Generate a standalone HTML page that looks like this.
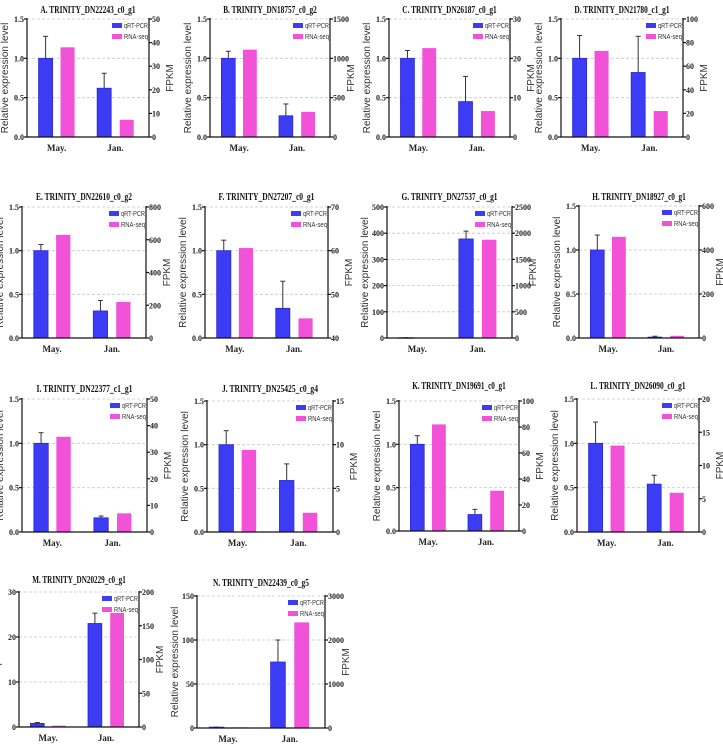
<!DOCTYPE html>
<html><head><meta charset="utf-8"><style>
html,body{margin:0;padding:0;background:#fff;}
svg{display:block;}
text{font-family:"Liberation Serif",serif;}
.ax{stroke:#111;stroke-width:1.2;fill:none;}
.grid{stroke:#c8c8c8;stroke-width:0.8;stroke-dasharray:3,2;}
.tick{font-size:8px;font-weight:bold;fill:#222;}
.ytitle{font-family:"Liberation Sans",sans-serif;font-size:10px;fill:#333;}
.leg{font-family:"Liberation Sans",sans-serif;font-size:7px;fill:#333;}
.ttl{font-size:10px;font-weight:bold;fill:#111;}
.xl{font-size:9px;font-weight:bold;fill:#222;}
</style></head><body>
<svg id="fig" width="723" height="744" viewBox="0 0 723 744" xmlns="http://www.w3.org/2000/svg"></svg>
<script>
const titles=["A. TRINITY_DN22243_c0_g1","B. TRINITY_DN18757_c0_g2","C. TRINITY_DN26187_c0_g1","D. TRINITY_DN21780_c1_g1","E. TRINITY_DN22610_c0_g2","F. TRINITY_DN27207_c0_g1","G. TRINITY_DN27537_c0_g1","H. TRINITY_DN18927_c0_g1","I. TRINITY_DN22377_c1_g1","J. TRINITY_DN25425_c0_g4","K. TRINITY_DN19691_c0_g1","L. TRINITY_DN26090_c0_g1","M. TRINITY_DN20229_c0_g1","N. TRINITY_DN22439_c0_g5"];
const categories=["May.","Jan."];
const qpcrMay=[1.0,1.0,1.0,1.0,1.0,1.0,1,1.0,1.0,1.0,1.0,1.0,0.8,1];
const qpcrJan=[0.62,0.27,0.45,0.82,0.31,0.34,378,0.01,0.16,0.59,0.19,0.54,23,75];
const qpcrErrMay=[1.28,1.09,1.1,1.29,1.07,1.12,1,1.17,1.12,1.16,1.1,1.24,1.0,1];
const qpcrErrJan=[0.81,0.42,0.77,1.28,0.43,0.65,408,0.02,0.18,0.78,0.25,0.64,25.3,100];
const rnaMay=[38,1110,22.6,73,630,60.6,5,460,35.8,9.4,82,13,2,15];
const rnaJan=[7.3,320,6.6,22,220,44.5,1875,10,7,2.2,31,5.9,169,2400];
const leftMax=[1.5,1.5,1.5,1.5,1.5,1.5,500,1.5,1.5,1.5,1.5,1.5,30,150];
const leftStep=[0.5,0.5,0.5,0.5,0.5,0.5,100,0.5,0.5,0.5,0.5,0.5,10,50];
const rightMin=[0,0,0,0,0,40,0,0,0,0,0,0,0,0];
const rightMax=[50,1500,30,100,800,70,2500,600,50,15,100,20,200,3000];
const rightStep=[10,500,10,20,200,10,500,200,10,5,20,5,50,1000];
// layout boxes [left,right,top,bottom,titleY]
const boxes=[[27,149,19,137,9],[210,330,19,137,9],[389,510,19,137,9],[561,683,19,137,9],
[22,146,207,338,196],[205,328,207,338,196],[387,512,207,338,196],[579,699,206,338,196],
[22,147,399,532,388],[207,333,401,532,388],[399,519,401,531,385],[577,699,399,532,385],
[19,139,592,727,579],[197,325,596,728,582]];
const NS="http://www.w3.org/2000/svg";
const svg=document.getElementById('fig');
function mk(tag,attrs,parent){const e=document.createElementNS(NS,tag);for(const k in attrs)e.setAttribute(k,attrs[k]);(parent||svg).appendChild(e);return e;}
function fmt(v,step){return step<1?v.toFixed(1):String(Math.round(v));}
for(let i=0;i<titles.length;i++){
  const [L,R,T,B,TY]=boxes[i];const W=R-L;
  const g=mk('g',{});
  
  
  const yL=v=>B-(v/leftMax[i])*(B-T);
  const yR=v=>B-((v-rightMin[i])/(rightMax[i]-rightMin[i]))*(B-T);
  const t=mk('text',{x:(L+R)/2,y:TY+4,'text-anchor':'middle',class:'ttl',textLength:Math.min(W*0.78,96),lengthAdjust:'spacingAndGlyphs'},g);
  t.textContent=titles[i];
  
  
  for(let v=0;v<=leftMax[i]+1e-9;v+=leftStep[i]){
    const y=yL(v);
    if(v>0){const gl=mk('line',{x1:L,x2:R,y1:y,y2:y,class:'grid'},g);}
    mk('line',{x1:L-3,x2:L,y1:y,y2:y,class:'ax'},g);
    const tx=mk('text',{x:L-3,y:y+3,'text-anchor':'end',class:'tick'},g);tx.textContent=fmt(v,leftStep[i]);
    
  }
  for(let v=rightMin[i];v<=rightMax[i]+1e-9;v+=rightStep[i]){
    const y=yR(v);
    mk('line',{x1:R,x2:R+3,y1:y,y2:y,class:'ax'},g);
    const tx=mk('text',{x:R+3,y:y+3,'text-anchor':'start',class:'tick'},g);tx.textContent=String(Math.round(v));
    
  }
  const bw=0.115*W;
  const pos=[[0.095,0.275],[0.575,0.76]];
  const qv=[qpcrMay[i],qpcrJan[i]],qe=[qpcrErrMay[i],qpcrErrJan[i]],rv=[rnaMay[i],rnaJan[i]];
  for(let c=0;c<2;c++){
    const bx=L+pos[c][0]*W, px=L+pos[c][1]*W;
    const yb=yL(qv[c]);
    const ye=yL(qe[c]);
    const el=mk('line',{x1:bx+bw/2,x2:bx+bw/2,y1:ye,y2:yb,stroke:'#333','stroke-width':1},g);
    
    mk('line',{x1:bx+bw/2-2.5,x2:bx+bw/2+2.5,y1:ye,y2:ye,stroke:'#333','stroke-width':1},g);
    const b=mk('rect',{x:bx,y:yb,width:bw,height:Math.max(B-yb,0.5),fill:'#3c3cf4',stroke:'#2a2ad0','stroke-width':0.8},g);
    
    
    const yp=yR(rv[c]);
    const p=mk('rect',{x:px,y:yp,width:bw,height:Math.max(B-yp,0.5),fill:'#f252d8'},g);
    
    
    const xl=mk('text',{x:(bx+px+bw)/2,y:B+14,'text-anchor':'middle',class:'xl'},g);
    xl.textContent=categories[c];
    
  }
  mk('line',{x1:L,x2:L,y1:T-1,y2:B,class:'ax'},g);
  mk('line',{x1:R,x2:R,y1:T-1,y2:B,class:'ax'},g);
  const xa=mk('line',{x1:L,x2:R,y1:B,y2:B,class:'ax'},g);
  
  const cy=(T+B)/2;
  const yt=mk('text',{x:0,y:0,'text-anchor':'middle',class:'ytitle',transform:`translate(${L-19},${cy}) rotate(-90)`},g);
  yt.textContent='Relative expression level';
  
  const yr=mk('text',{x:0,y:0,'text-anchor':'middle',class:'ytitle',transform:`translate(${R+24},${cy}) rotate(-90)`},g);
  yr.textContent='FPKM';
  
  const lx=R-37, ly=T+6;
  const s1=mk('rect',{x:lx,y:ly-2,width:10,height:5,fill:'#3c3cf4'},g);
  
  const l1=mk('text',{x:lx+12,y:ly+3,class:'leg',textLength:24,lengthAdjust:'spacingAndGlyphs'},g);l1.textContent='qRT-PCR';
  
  const s2=mk('rect',{x:lx,y:ly+9,width:10,height:5,fill:'#f252d8'},g);
  
  const l2=mk('text',{x:lx+12,y:ly+14,class:'leg',textLength:24,lengthAdjust:'spacingAndGlyphs'},g);l2.textContent='RNA-seq';
  
}
</script>
</body></html>
